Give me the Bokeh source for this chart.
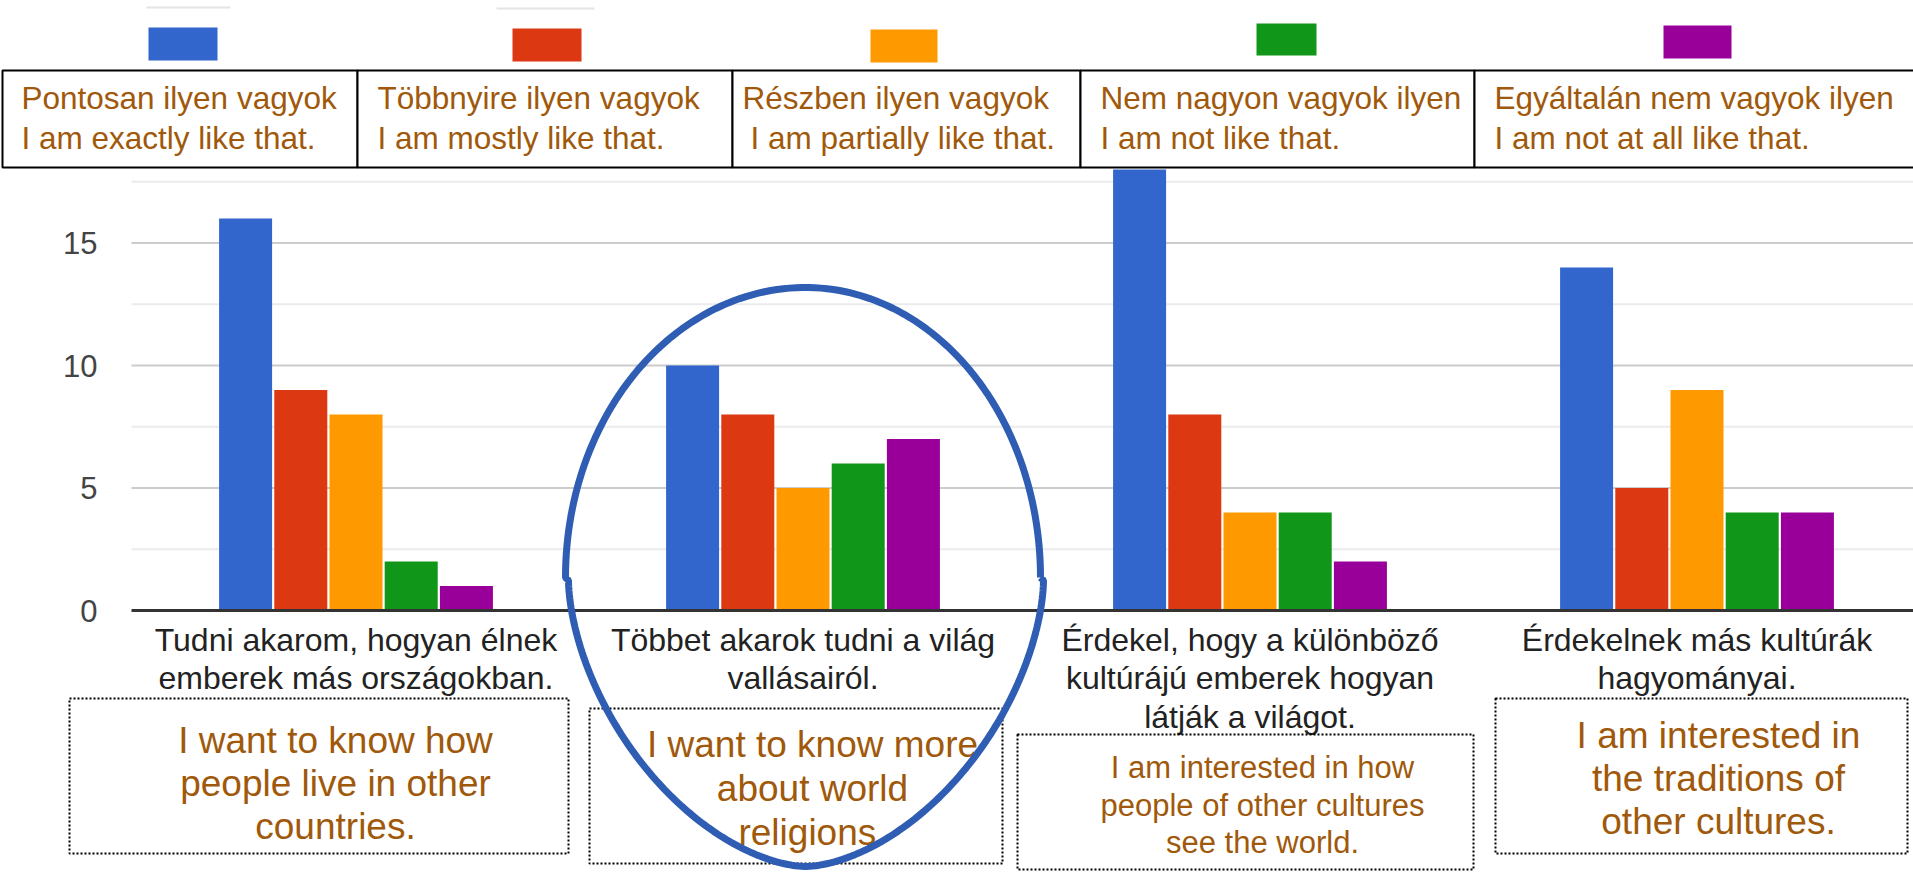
from bokeh.plotting import figure
from bokeh.models import Range1d
from bokeh.embed import file_html
from bokeh.resources import INLINE
from bokeh.core.properties import value
import numpy as np

# ---------------- data ----------------
categories = [
    "Tudni akarom, hogyan élnek\nemberek más országokban.",
    "Többet akarok tudni a világ\nvallásairól.",
    "Érdekel, hogy a különböző\nkultúrájú emberek hogyan\nlátják a világot.",
    "Érdekelnek más kultúrák\nhagyományai.",
]
categories_en = [
    "I want to know how\npeople live in other\ncountries.",
    "I want to know more\nabout world\nreligions.",
    "I am interested in how\npeople of other cultures\nsee the world.",
    "I am interested in\nthe traditions of\nother cultures.",
]
series_hu = ["Pontosan ilyen vagyok", "Többnyire ilyen vagyok", "Részben ilyen vagyok",
             "Nem nagyon vagyok ilyen", "Egyáltalán nem vagyok ilyen"]
series_en = ["I am exactly like that.", "I am mostly like that.", "I am partially like that.",
             "I am not like that.", "I am not at all like that."]
pontosan = [16, 10, 18, 14]
tobbnyire = [9, 8, 8, 5]
reszben = [8, 5, 4, 9]
nem_nagyon = [2, 6, 4, 4]
egyaltalan = [1, 7, 2, 4]
series_values = [pontosan, tobbnyire, reszben, nem_nagyon, egyaltalan]
y_ticks = [0, 5, 10, 15]
minor_ticks = [2.5, 7.5, 12.5, 17.5]
colors = ["#3366CC", "#DC3912", "#FF9900", "#109618", "#990099"]

# ---------------- layout (pixels) ----------------
W, H = 1913, 873
X0, XS = 132.0, 447.0      # pixel of x=0, pixels per category
Y0, YS = 610.0, 24.5       # pixel of y=0, pixels per unit

def dx(px):
    return (px - X0) / XS

def dy(py):
    return (Y0 - py) / YS

FONT = value("Liberation Sans")
BROWN = "#A0590B"

p = figure(width=W, height=H, x_range=Range1d(dx(0), dx(W)), y_range=Range1d(dy(H), dy(0)),
           output_backend="svg", toolbar_location=None, x_axis_location=None,
           y_axis_location=None, min_border=0, outline_line_color=None)
p.grid.visible = False
p.background_fill_color = "white"
p.border_fill_color = "white"

# grid lines
x_left, x_right = dx(131), dx(W + 5)
p.segment(x0=[x_left] * len(minor_ticks), x1=[x_right] * len(minor_ticks), y0=minor_ticks,
          y1=minor_ticks, line_color="#ebebeb", line_width=2)
p.segment(x0=[x_left] * 3, x1=[x_right] * 3, y0=y_ticks[1:], y1=y_ticks[1:],
          line_color="#cccccc", line_width=2)

# y tick labels
p.text(x=[dx(97)] * len(y_ticks), y=y_ticks, text=[str(t) for t in y_ticks],
       text_align="right", text_baseline="middle", text_font=FONT,
       text_font_size="31px", text_color="#444444")

# bars
pitch, bw = 0.1235, 0.1186
for k, vals in enumerate(series_values):
    xs = [i + 0.5 + (k - 2) * pitch for i in range(len(vals))]
    p.vbar(x=xs, top=vals, bottom=0, width=bw, fill_color=colors[k], line_color=None)

# baseline
p.segment(x0=[x_left], x1=[x_right], y0=[0], y1=[0], line_color="#333333", line_width=3)

# category labels (Hungarian)
cx, cy, ct = [], [], []
for i, c in enumerate(categories):
    for j, line in enumerate(c.split("\n")):
        cx.append(i + 0.5)
        cy.append(dy(639 + 38.5 * j))
        ct.append(line)
p.text(x=cx, y=cy, text=ct, text_align="center", text_baseline="alphabetic",
       text_font=FONT, text_font_size="32px", text_color="#222222")

# English dotted boxes
boxes_en = [(69, 568, 698, 853), (589, 1002, 708, 863), (1017, 1473, 734, 869), (1495, 1907, 698, 853)]
p.quad(left=[dx(b[0]) for b in boxes_en], right=[dx(b[1]) for b in boxes_en],
       top=[dy(b[2]) for b in boxes_en], bottom=[dy(b[3]) for b in boxes_en],
       fill_color=None, line_color="black", line_width=2, line_dash="2 2")
en_cx = [335, 812, 1262, 1718]
en_y0 = [740, 744, 767, 735]
en_step = [43, 44, 37.5, 43]
en_size = [37, 37, 31, 37]
for i, c in enumerate(categories_en):
    lines = c.split("\n")
    p.text(x=[dx(en_cx[i])] * len(lines), y=[dy(en_y0[i] + en_step[i] * j) for j in range(len(lines))],
           text=lines, text_align="center", text_baseline="alphabetic", text_font=FONT,
           text_font_size=f"{en_size[i]}px", text_color=BROWN)

# top legend boxes
edges = [2, 357, 732, 1080, 1474, 1918]
p.quad(left=[dx(e) for e in edges[:-1]], right=[dx(e) for e in edges[1:]],
       top=[dy(70)] * 5, bottom=[dy(167)] * 5, fill_color="white",
       line_color="black", line_width=2)
tx1 = [21, 377, 742, 1100, 1494]
tx2 = [21, 377, 750, 1100, 1494]
p.text(x=[dx(v) for v in tx1], y=[dy(97)] * 5, text=series_hu, text_align="left",
       text_baseline="alphabetic", text_font=FONT, text_font_size="31.5px", text_color=BROWN)
p.text(x=[dx(v) for v in tx2], y=[dy(137)] * 5, text=series_en, text_align="left",
       text_baseline="alphabetic", text_font=FONT, text_font_size="31.5px", text_color=BROWN)

# legend swatches
sw = [(148, 217, 27, 60), (512, 581, 28, 61), (870, 937, 29, 62), (1256, 1316, 23, 55), (1663, 1731, 25, 58)]
p.quad(left=[dx(s[0]) for s in sw], right=[dx(s[1]) for s in sw],
       top=[dy(s[2]) for s in sw], bottom=[dy(s[3]) for s in sw],
       fill_color=colors, line_color=None)
p.segment(x0=[dx(146), dx(496)], x1=[dx(230), dx(594)], y0=[dy(7), dy(8)], y1=[dy(7), dy(8)],
          line_color="#e4e4e4", line_width=2)

# hand-drawn ellipse around the second group
t = np.linspace(0, np.pi, 120)
ux = np.where(np.cos(t) >= 0, 805 + 235 * np.cos(t), 805 + 240 * np.cos(t))
uy = 577 - 290 * np.sin(t)
n = 1.7
tt = np.linspace(np.pi, 2 * np.pi, 160)
c_ = np.cos(tt)
s_ = np.abs(np.sin(tt))
lx = np.where(c_ >= 0, 805 + 238 * np.sign(c_) * np.abs(c_) ** (2 / n),
              805 + 237 * np.sign(c_) * np.abs(c_) ** (2 / n))
ly = 580 + 286 * s_ ** (2 / n)
ex = np.concatenate([ux, lx, [ux[0]]])
ey = np.concatenate([uy, ly, [uy[0]]])
p.line(x=[dx(v) for v in ex], y=[dy(v) for v in ey], line_color="#2E5DB3", line_width=7)

open("out.html", "w").write(file_html(p, INLINE))
